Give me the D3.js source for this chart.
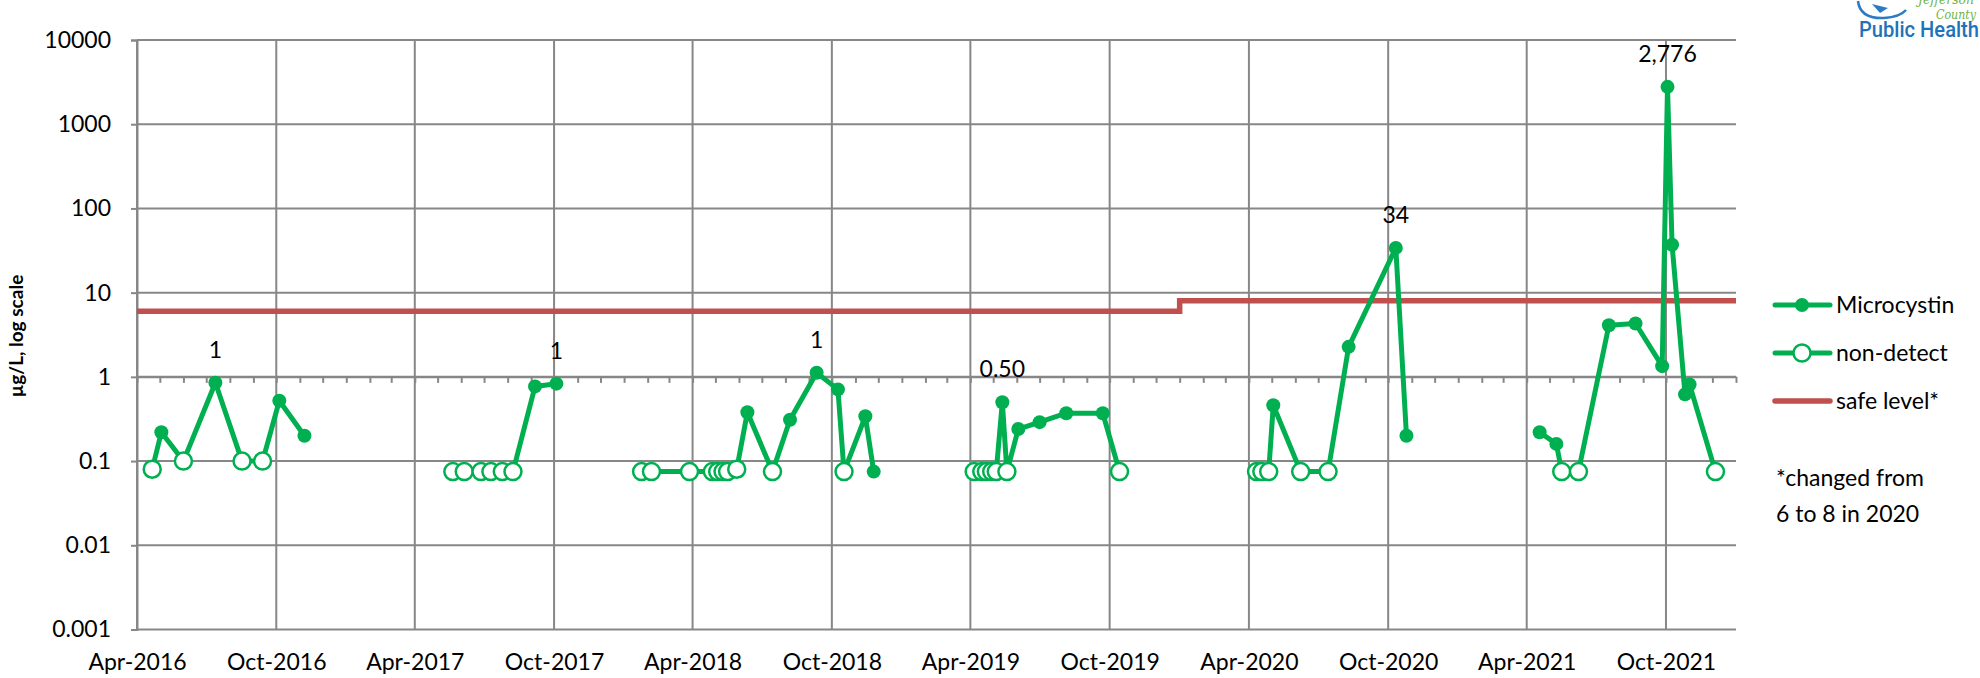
<!DOCTYPE html>
<html>
<head>
<meta charset="utf-8">
<script src="https://cdn.jsdelivr.net/npm/d3@7"></script>
<style>
  body { margin: 0; background: #fff; }
  text { font-family: Lato, 'Noto Sans', sans-serif; fill: #000; }
</style>
</head>
<body>
<div class="chart"></div>
<script>
// Microcystin samples, log scale, with safe level line

// samples (date, µg/L, 1 = non-detect)
let sampleDates = [
  '2016-04-21','2016-05-03','2016-06-01','2016-07-13','2016-08-17','2016-09-13','2016-10-05','2016-11-07',
  '2017-05-21','2017-06-05','2017-06-27','2017-07-10','2017-07-25','2017-08-08','2017-09-06','2017-10-04',
  '2018-01-24','2018-02-06','2018-03-28','2018-04-27','2018-05-04','2018-05-11','2018-05-17','2018-05-29',
  '2018-06-12','2018-07-15','2018-08-07','2018-09-11','2018-10-09','2018-10-17','2018-11-14','2018-11-25',
  '2019-04-06','2019-04-16','2019-04-22','2019-04-29','2019-05-05','2019-05-13','2019-05-19','2019-06-03',
  '2019-07-01','2019-08-05','2019-09-22','2019-10-14',
  '2020-04-11','2020-04-18','2020-04-27','2020-05-03','2020-06-08','2020-07-14','2020-08-10','2020-10-11','2020-10-25',
  '2021-04-18','2021-05-10','2021-05-17','2021-06-08','2021-07-18','2021-08-22','2021-09-26','2021-10-03',
  '2021-10-09','2021-10-26','2021-11-01','2021-12-05'
];
let microcystin = [
  0.08, 0.22, 0.1, 0.85, 0.1, 0.1, 0.52, 0.2,
  0.075, 0.075, 0.075, 0.075, 0.075, 0.075, 0.77, 0.83,
  0.075, 0.075, 0.075, 0.075, 0.075, 0.075, 0.075, 0.08,
  0.38, 0.075, 0.31, 1.12, 0.71, 0.075, 0.34, 0.075,
  0.075, 0.075, 0.075, 0.075, 0.075, 0.5, 0.075, 0.24,
  0.29, 0.37, 0.37, 0.075,
  0.075, 0.075, 0.075, 0.46, 0.075, 0.075, 2.27, 34, 0.2,
  0.22, 0.16, 0.075, 0.075, 4.1, 4.3, 1.34, 2776,
  37, 0.62, 0.81, 0.075
];
let nonDetect = [
  1,0,1,0,1,1,0,0,
  1,1,1,1,1,1,0,0,
  1,1,1,1,1,1,1,1,
  0,1,0,0,0,1,0,0,
  1,1,1,1,1,0,1,0,
  0,0,0,1,
  1,1,1,0,1,1,0,0,0,
  0,0,1,1,0,0,0,0,
  0,0,0,1
];

// data labels
let labelDates = ['2016-07-13','2017-10-04','2018-09-11','2019-05-13','2020-10-11','2021-10-03'];
let labelText = ['1','1','1','0.50','34','2,776'];

// safe level (changed from 6 to 8 in 2020)
let safeDates = ['2016-04-01','2020-01-01','2022-01-01'];
let safeLevels = [6, 8, 8];

// axes
let xTickLabels = ['Apr-2016','Oct-2016','Apr-2017','Oct-2017','Apr-2018','Oct-2018',
  'Apr-2019','Oct-2019','Apr-2020','Oct-2020','Apr-2021','Oct-2021'];
let yTicks = [0.001, 0.01, 0.1, 1, 10, 100, 1000, 10000];
let legendNames = ['Microcystin','non-detect','safe level*'];
let noteLines = ['*changed from','6 to 8 in 2020'];

let green = '#00B050';
let red = '#C0504D';
let grid = '#878787';

let parse = d3.timeParse('%Y-%m-%d');
let xStart = parse('2016-04-01');
let xEnd = parse('2022-01-01');

let xScale = d3.scaleTime().domain([xStart, xEnd]).range([137, 1736]);
let yScale = d3.scaleLog().domain([0.001, 10000]).range([629.5, 40]);

let svg = d3.select('.chart').append('svg')
  .attr('width', 1980)
  .attr('height', 678);

let majors = d3.timeMonth.range(xStart, xEnd, 6);
let months = d3.timeMonth.range(xStart, d3.timeDay.offset(xEnd, 1));

// horizontal gridlines
svg.append('g')
  .selectAll('line')
  .data(yTicks)
  .enter().append('line')
  .attr('x1', 137).attr('x2', 1736)
  .attr('y1', d => yScale(d)).attr('y2', d => yScale(d))
  .attr('stroke', grid).attr('stroke-width', 2);

// vertical gridlines
svg.append('g')
  .selectAll('line')
  .data(majors)
  .enter().append('line')
  .attr('x1', d => xScale(d)).attr('x2', d => xScale(d))
  .attr('y1', yScale(10000)).attr('y2', yScale(0.001))
  .attr('stroke', grid).attr('stroke-width', 2);

// y axis
let yAxis = d3.axisLeft(yScale)
  .tickValues(yTicks)
  .tickSize(6)
  .tickPadding(20)
  .tickFormat(d => String(d));
let yg = svg.append('g')
  .attr('transform', 'translate(137,0)')
  .call(yAxis);
yg.select('.domain').attr('stroke', grid).attr('stroke-width', 2);
yg.selectAll('.tick line').attr('stroke', grid).attr('stroke-width', 2);
yg.selectAll('.tick text')
  .style('font-size', '23px')
  .style('font-family', 'Lato, sans-serif')
  .attr('fill', '#000');

// x axis minor ticks sit on the 1 line
let xMinor = d3.axisBottom(xScale)
  .tickValues(months)
  .tickSize(6)
  .tickSizeOuter(0)
  .tickFormat('');
let xm = svg.append('g')
  .attr('transform', 'translate(0,' + yScale(1) + ')')
  .call(xMinor);
xm.select('.domain').attr('stroke', grid).attr('stroke-width', 2);
xm.selectAll('.tick line').attr('stroke', grid).attr('stroke-width', 2);

// x axis labels at the bottom
let xAxis = d3.axisBottom(xScale)
  .tickValues(majors)
  .tickSize(0)
  .tickPadding(24)
  .tickFormat((d, i) => xTickLabels[i]);
let xg = svg.append('g')
  .attr('transform', 'translate(0,' + yScale(0.001) + ')')
  .call(xAxis);
xg.select('.domain').remove();
xg.selectAll('.tick text')
  .style('font-size', '23px')
  .style('font-family', 'Lato, sans-serif')
  .attr('fill', '#000');

// y axis title
svg.append('text')
  .attr('transform', 'translate(23,336) rotate(-90)')
  .attr('text-anchor', 'middle')
  .style('font-size', '19px')
  .style('font-weight', 'bold')
  .text('µg/L, log scale');

// safe level line
let safe = safeDates.map((d, i) => ({date: parse(d), v: safeLevels[i]}));
svg.append('path')
  .datum(safe)
  .attr('fill', 'none')
  .attr('stroke', red)
  .attr('stroke-width', 5.5)
  .attr('d', d3.line()
    .x(d => xScale(d.date))
    .y(d => yScale(d.v))
    .curve(d3.curveStepAfter));

// samples, split into seasons where the gap is long
let data = sampleDates.map((d, i) => ({date: parse(d), v: microcystin[i], nd: nonDetect[i]}));
let seasons = [];
data.forEach(function(d, i) {
  if (i == 0 || (d.date - data[i - 1].date) / 864e5 > 90) seasons.push([]);
  seasons[seasons.length - 1].push(d);
});

let line = d3.line()
  .x(d => xScale(d.date))
  .y(d => yScale(d.v));

svg.append('g')
  .selectAll('path')
  .data(seasons)
  .enter().append('path')
  .attr('fill', 'none')
  .attr('stroke', green)
  .attr('stroke-width', 5)
  .attr('stroke-linejoin', 'round')
  .attr('d', line);

// markers
svg.append('g')
  .selectAll('circle')
  .data(data)
  .enter().append('circle')
  .attr('cx', d => xScale(d.date))
  .attr('cy', d => yScale(d.v))
  .attr('r', d => d.nd ? 8.5 : 7)
  .attr('fill', d => d.nd ? '#fff' : green)
  .attr('stroke', green)
  .attr('stroke-width', d => d.nd ? 2.5 : 0);

// data labels
svg.append('g')
  .selectAll('text')
  .data(labelDates)
  .enter().append('text')
  .attr('x', d => xScale(parse(d)))
  .attr('y', (d, i) => yScale(data.find(p => +p.date == +parse(d)).v) - 25)
  .attr('text-anchor', 'middle')
  .style('font-size', '23px')
  .text((d, i) => labelText[i]);

// legend
let legend = svg.append('g');
legendNames.forEach(function(name, i) {
  let ly = 305 + i * 48;
  legend.append('line')
    .attr('x1', 1775).attr('x2', 1830)
    .attr('y1', ly).attr('y2', ly)
    .attr('stroke', i == 2 ? red : green)
    .attr('stroke-width', i == 2 ? 5.5 : 5)
    .attr('stroke-linecap', 'round');
  if (i < 2) {
    legend.append('circle')
      .attr('cx', 1802).attr('cy', ly)
      .attr('r', i == 1 ? 8.5 : 7)
      .attr('fill', i == 1 ? '#fff' : green)
      .attr('stroke', green)
      .attr('stroke-width', i == 1 ? 2.5 : 0);
  }
  legend.append('text')
    .attr('x', 1836).attr('y', ly + 8)
    .style('font-size', '23px')
    .text(name);
});
noteLines.forEach(function(t, i) {
  svg.append('text')
    .attr('x', 1776).attr('y', 486 + i * 36)
    .style('font-size', '23px')
    .text(t);
});

// logo, top right corner
let logo = svg.append('g');
logo.append('path')
  .attr('d', 'M1858,1 Q1860,19 1884,18 Q1900,17 1906,10')
  .attr('fill', 'none')
  .attr('stroke', '#2A7BC4')
  .attr('stroke-width', 2.5);
logo.append('path')
  .attr('d', 'M1872,4 L1880,13 L1888,8 Z')
  .attr('fill', '#2A7BC4');
logo.append('text')
  .attr('x', 1918).attr('y', 4)
  .attr('textLength', 56)
  .attr('lengthAdjust', 'spacingAndGlyphs')
  .style('font-size', '13px')
  .style('font-style', 'italic')
  .style('font-family', "'DejaVu Serif', serif")
  .style('fill', '#6DB33F')
  .text('Jefferson');
logo.append('text')
  .attr('x', 1936).attr('y', 19)
  .attr('textLength', 40)
  .attr('lengthAdjust', 'spacingAndGlyphs')
  .style('font-size', '13px')
  .style('font-style', 'italic')
  .style('font-family', "'DejaVu Serif', serif")
  .style('fill', '#6DB33F')
  .text('County');
logo.append('text')
  .attr('x', 1859).attr('y', 37)
  .attr('textLength', 120)
  .attr('lengthAdjust', 'spacingAndGlyphs')
  .style('font-size', '22px')
  .style('font-weight', '500')
  .style('font-family', "Roboto, 'Liberation Sans', sans-serif")
  .style('fill', '#2173B9')
  .text('Public Health');
</script>
</body>
</html>
